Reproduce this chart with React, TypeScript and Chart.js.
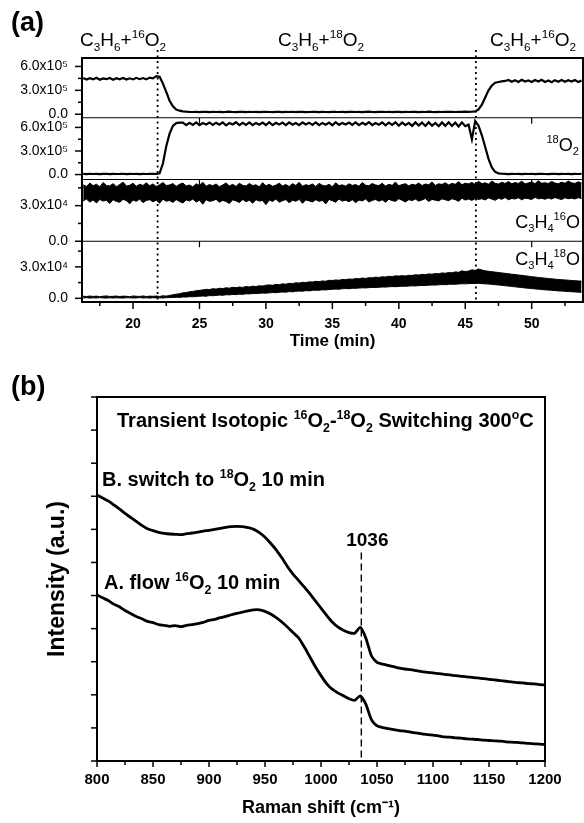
import React, { useEffect, useRef } from 'react';
import { Chart, registerables } from 'chart.js';

Chart.register(...registerables);

const FONT = '"Liberation Sans", Arial, Helvetica, sans-serif';

// ---------------- Panel (a): transient MS signals ----------------
const T0 = 16.25; // min
const DT = 0.25; // min

// 16O2 signal (x1e5)
const O16_SIGNAL = [
  4.55, 4.35, 4.52, 4.38, 4.58, 4.33, 4.5, 4.4, 4.56, 4.34, 4.53, 4.39, 4.55, 4.36, 4.51, 4.37, 4.57, 4.4, 4.54, 4.38, 4.6, 4.5,
  4.78, 4.7, 3.85, 2.8, 1.7, 1.0, 0.6, 0.45, 0.37,
  0.33, 0.3, 0.28, 0.31, 0.27, 0.3, 0.29, 0.26, 0.31, 0.28,
  0.3, 0.27, 0.29, 0.32, 0.28, 0.26, 0.3, 0.29, 0.27, 0.31,
  0.28, 0.3, 0.26, 0.29, 0.31, 0.28, 0.27, 0.3, 0.29, 0.26,
  0.3, 0.28, 0.31, 0.27, 0.29, 0.3, 0.26, 0.28, 0.31, 0.29,
  0.27, 0.3, 0.28, 0.26, 0.31, 0.29, 0.28, 0.3, 0.27, 0.29,
  0.31, 0.28, 0.3, 0.26, 0.29, 0.32, 0.28, 0.27, 0.3, 0.29,
  0.28, 0.31, 0.27, 0.3, 0.29, 0.26, 0.31, 0.28, 0.3, 0.29,
  0.27, 0.3, 0.28, 0.32, 0.29, 0.27, 0.3, 0.28, 0.31, 0.29,
  0.3, 0.28, 0.31, 0.29, 0.33, 0.3, 0.32,
  0.36, 0.6, 1.2, 2.1, 3.0, 3.6, 3.95, 4.05, 4.12, 4.18,
  4.3, 4.08, 4.27, 4.05, 4.32, 4.1, 4.25, 4.04, 4.29, 4.11, 4.33, 4.06, 4.24, 4.03, 4.28, 4.09, 4.31, 4.07, 4.26, 4.1, 4.3, 4.05, 4.22,
];

// 18O2 signal (x1e5)
const O18_SIGNAL = [
  0.08, 0.06, 0.1, 0.07, 0.09, 0.05, 0.08, 0.1, 0.06, 0.09, 0.07, 0.08, 0.1, 0.06, 0.09, 0.07, 0.08, 0.05, 0.09, 0.07, 0.1, 0.08, 0.09,
  0.15, 1.4, 3.6, 5.2, 6.2, 6.55, 6.6,
  6.62, 6.3, 6.58, 6.33, 6.65, 6.28, 6.55, 6.36, 6.63, 6.31,
  6.6, 6.34, 6.64, 6.27, 6.56, 6.37, 6.66, 6.3, 6.59, 6.33,
  6.63, 6.29, 6.57, 6.35, 6.62, 6.31, 6.66, 6.28, 6.58, 6.36,
  6.61, 6.3, 6.65, 6.34, 6.55, 6.28, 6.63, 6.37, 6.6, 6.32,
  6.64, 6.3, 6.57, 6.35, 6.62, 6.27, 6.66, 6.33, 6.56, 6.38,
  6.61, 6.31, 6.64, 6.29, 6.58, 6.36, 6.67, 6.3, 6.55, 6.34,
  6.63, 6.26, 6.6, 6.32, 6.65, 6.22, 6.62, 6.28, 6.58, 6.2,
  6.64, 6.25, 6.61, 6.18, 6.66, 6.22, 6.57, 6.15, 6.63, 6.2,
  6.65, 6.18, 6.6, 6.12, 6.64, 6.16,
  6.35, 4.5, 6.8, 6.2, 5.0, 3.5, 2.0, 0.9, 0.35, 0.15,
  0.1, 0.08, 0.06, 0.09, 0.07, 0.08, 0.05, 0.09, 0.07, 0.1, 0.06, 0.08, 0.09, 0.07, 0.05, 0.08, 0.1, 0.06, 0.09, 0.07, 0.08, 0.06, 0.09, 0.07, 0.08,
];

// C3H4 16O signal (x1e4): upper and lower edge of the noise band
const C3H4_16O_HIGH = [
  4.75, 4.62, 4.9, 4.68, 4.8, 4.58, 4.95, 4.7, 4.66, 4.85,
  4.6, 4.78, 4.98, 4.65, 4.72, 4.88, 4.63, 4.8, 4.7, 4.92,
  4.67, 4.83, 4.61, 4.76, 4.95, 4.69, 4.74, 4.86, 4.62, 4.79,
  4.9, 4.66, 4.73, 4.58, 4.84, 4.7, 4.97, 4.64, 4.77, 4.68,
  4.82, 4.6, 4.74, 4.91, 4.66, 4.79, 4.62, 4.88, 4.71, 4.65,
  4.86, 4.69, 4.75, 4.58, 4.93, 4.67, 4.8, 4.63, 4.72, 4.89,
  4.66, 4.78, 4.61, 4.85, 4.7, 4.96, 4.64, 4.76, 4.69, 4.83,
  4.62, 4.87, 4.71, 4.66, 4.8, 4.59, 4.92, 4.68, 4.75, 4.64,
  4.84, 4.7, 4.78, 4.63, 4.95, 4.72, 4.67, 4.86, 4.74, 4.69,
  4.88, 4.65, 4.79, 4.71, 4.98, 4.68, 4.77, 4.85, 4.66, 4.8,
  4.73, 4.9, 4.69, 4.82, 4.75, 4.99, 4.7, 4.84, 4.78, 4.92,
  4.74, 4.87, 4.8, 5.02, 4.76, 4.89, 4.83, 4.95, 4.79, 5.05,
  4.85, 4.92, 4.8, 5.08, 4.88, 4.82, 4.97, 4.86, 5.03, 4.84,
  4.94, 4.87, 5.06, 4.83, 4.91, 4.99, 4.85, 5.1, 4.89, 4.93,
  4.86, 5.04, 4.9, 4.84, 4.98, 4.88, 5.07, 4.92, 4.87, 5.01,
  4.9,
];
const C3H4_16O_LOW = [
  3.4, 3.55, 3.3, 3.48, 3.22, 3.52, 3.38, 3.45, 3.18, 3.5,
  3.35, 3.28, 3.53, 3.42, 3.15, 3.47, 3.36, 3.55, 3.25, 3.44,
  3.5, 3.32, 3.46, 3.2, 3.54, 3.37, 3.43, 3.27, 3.51, 3.34,
  3.22, 3.48, 3.39, 3.56, 3.3, 3.45, 3.12, 3.5, 3.36, 3.41,
  3.53, 3.29, 3.44, 3.35, 3.18, 3.49, 3.4, 3.26, 3.52, 3.33,
  3.46, 3.21, 3.5, 3.38, 3.43, 3.08, 3.47, 3.35, 3.55, 3.28,
  3.42, 3.51, 3.24, 3.45, 3.37, 3.53, 3.19, 3.48, 3.4, 3.31,
  3.5, 3.36, 3.44, 3.14, 3.52, 3.41, 3.29, 3.55, 3.38, 3.46,
  3.33, 3.5, 3.25, 3.47, 3.4, 3.56, 3.3, 3.44, 3.52, 3.37,
  3.49, 3.28, 3.54, 3.42, 3.36, 3.58, 3.45, 3.31, 3.5, 3.43,
  3.55, 3.38, 3.48, 3.6, 3.35, 3.52, 3.46, 3.4, 3.57, 3.49,
  3.42, 3.58, 3.5, 3.36, 3.62, 3.47, 3.55, 3.44, 3.6, 3.52,
  3.58, 3.48, 3.65, 3.55, 3.45, 3.62, 3.53, 3.68, 3.5, 3.6,
  3.56, 3.66, 3.49, 3.63, 3.58, 3.52, 3.7, 3.57, 3.61, 3.54,
  3.64, 3.55, 3.68, 3.59, 3.51, 3.66, 3.58, 3.63, 3.56, 3.67,
  3.6,
];

// C3H4 18O signal (x1e4): upper and lower edge of the noise band
const C3H4_18O_HIGH = [
  0.2, 0.17, 0.22, 0.18, 0.21, 0.16, 0.2, 0.23, 0.18, 0.19, 0.22, 0.17, 0.21, 0.19, 0.16, 0.22, 0.2, 0.18, 0.23, 0.17, 0.21, 0.19, 0.22, 0.18, 0.24, 0.21,
  0.28, 0.33, 0.4, 0.44, 0.52, 0.55, 0.62, 0.66, 0.72, 0.76,
  0.8, 0.86, 0.83, 0.92, 0.88, 0.96, 0.93, 1.0, 0.97, 1.05, 1.01, 1.08, 1.04, 1.12, 1.09, 1.16, 1.12, 1.2, 1.17, 1.25,
  1.28, 1.24, 1.33, 1.3, 1.38, 1.35, 1.43, 1.4, 1.48, 1.45, 1.53, 1.5, 1.57, 1.55, 1.62, 1.59, 1.66, 1.63, 1.72, 1.7,
  1.75, 1.72, 1.8, 1.78, 1.84, 1.82, 1.88, 1.86, 1.93, 1.9, 1.97, 1.95, 2.02, 1.99, 2.05, 2.03, 2.1, 2.07, 2.14, 2.12,
  2.16, 2.13, 2.2, 2.18, 2.25, 2.22, 2.28, 2.26, 2.33, 2.3, 2.37, 2.34, 2.42, 2.39, 2.46, 2.43, 2.52, 2.48, 2.62, 2.55,
  2.6, 2.72, 2.66, 2.8, 2.7, 2.62, 2.58, 2.54, 2.5, 2.46,
  2.42, 2.38, 2.35, 2.3, 2.27, 2.22, 2.19, 2.14, 2.11, 2.06, 2.03, 1.99, 1.96, 1.92, 1.89, 1.86, 1.83, 1.8, 1.78, 1.75, 1.73, 1.7, 1.68, 1.66, 1.64,
];
const C3H4_18O_LOW = [
  0.04, 0.06, 0.02, 0.05, 0.03, 0.07, 0.04, 0.02, 0.06, 0.03, 0.05, 0.04, 0.02, 0.06, 0.05, 0.03, 0.04, 0.07, 0.03, 0.05, 0.02, 0.06, 0.04, 0.05, 0.03, 0.06,
  0.07, 0.08, 0.1, 0.09, 0.13, 0.12, 0.16, 0.15, 0.18, 0.2,
  0.22, 0.2, 0.26, 0.25, 0.28, 0.31, 0.29, 0.34, 0.33, 0.37, 0.36, 0.4, 0.38, 0.43, 0.42, 0.46, 0.45, 0.48, 0.5, 0.49,
  0.52, 0.55, 0.54, 0.58, 0.6, 0.59, 0.64, 0.62, 0.67, 0.69, 0.68, 0.73, 0.71, 0.76, 0.78, 0.77, 0.81, 0.8, 0.84, 0.86,
  0.88, 0.87, 0.91, 0.93, 0.92, 0.96, 0.95, 0.98, 1.0, 0.99, 1.02, 1.04, 1.03, 1.06, 1.08, 1.07, 1.1, 1.12, 1.11, 1.13,
  1.15, 1.14, 1.17, 1.19, 1.18, 1.21, 1.23, 1.22, 1.25, 1.27, 1.26, 1.29, 1.31, 1.3, 1.33, 1.35, 1.34, 1.37, 1.39, 1.38,
  1.4, 1.42, 1.41, 1.43, 1.4, 1.38, 1.36, 1.33, 1.3, 1.27,
  1.24, 1.2, 1.17, 1.13, 1.1, 1.06, 1.03, 0.99, 0.96, 0.93, 0.9, 0.87, 0.84, 0.81, 0.79, 0.76, 0.74, 0.71, 0.69, 0.67, 0.65, 0.63, 0.61, 0.59, 0.58,
];

const TIME = Array.from({ length: O16_SIGNAL.length }, (_, i) => T0 + DT * i);
const SWITCH_TIMES = [21.85, 45.8];
const TIME_MAJOR_TICKS = [20, 25, 30, 35, 40, 45, 50];
const TIME_MINOR_TICKS = [17.5, 22.5, 27.5, 32.5, 37.5, 42.5, 47.5, 52.5];
const INNER_TICKS = [25, 50];
const O2_MAJOR = [0, 3, 6];
const O2_MINOR = [1.5, 4.5];
const C3H4_MAJOR = [0, 3];
const C3H4_MINOR = [1.5, 4.5];

// ---------------- Panel (b): Raman spectra ----------------
const RAMAN_START = 800;
const RAMAN_STEP = 5;
// A. flow 16O2 10 min (arbitrary units, tick spacing = 1)
const SPECTRUM_A = [
  5.02, 4.93, 4.85, 4.74, 4.66, 4.55, 4.46, 4.37, 4.3, 4.22,
  4.18, 4.12, 4.1, 4.07, 4.09, 4.06, 4.1, 4.12, 4.15, 4.19,
  4.25, 4.28, 4.33, 4.37, 4.42, 4.46, 4.5, 4.54, 4.57, 4.57,
  4.52, 4.44, 4.33, 4.2, 4.05, 3.88, 3.72, 3.45, 3.15, 2.85,
  2.58, 2.34, 2.17, 2.06, 1.97, 1.88, 1.83, 1.97, 1.72, 1.25,
  1.06, 1.01, 0.98, 0.95, 0.92, 0.9, 0.87, 0.85, 0.82, 0.8,
  0.78, 0.76, 0.73, 0.72, 0.7, 0.69, 0.67, 0.66, 0.65, 0.63,
  0.62, 0.61, 0.6, 0.58, 0.57, 0.56, 0.55, 0.53, 0.52, 0.51,
  0.5,
];
// B. switch to 18O2 10 min
const SPECTRUM_B = [
  8.04, 7.95, 7.86, 7.74, 7.62, 7.48, 7.36, 7.24, 7.12, 7.02,
  6.96, 6.91, 6.88, 6.86, 6.85, 6.84, 6.87, 6.89, 6.92, 6.95,
  6.97, 7.0, 7.03, 7.06, 7.08, 7.09, 7.08, 7.05, 7.0, 6.9,
  6.76, 6.58, 6.38, 6.14, 5.88, 5.65, 5.46, 5.26, 5.06, 4.84,
  4.62, 4.4, 4.2, 4.05, 3.95, 3.88, 3.86, 4.04, 3.72, 3.18,
  2.98, 2.93, 2.89, 2.85, 2.81, 2.78, 2.76, 2.73, 2.7, 2.68,
  2.66, 2.64, 2.62, 2.6, 2.58, 2.56, 2.54, 2.53, 2.51, 2.49,
  2.47, 2.45, 2.43, 2.41, 2.39, 2.37, 2.36, 2.34, 2.33, 2.31,
  2.3,
];
const RAMAN_SHIFT = Array.from({ length: SPECTRUM_A.length }, (_, i) => RAMAN_START + RAMAN_STEP * i);
const RAMAN_MAJOR_TICKS = [800, 850, 900, 950, 1000, 1050, 1100, 1150, 1200];
const RAMAN_MINOR_TICKS = [825, 875, 925, 975, 1025, 1075, 1125, 1175];
const INTENSITY_TICKS = [0, 1, 2, 3, 4, 5, 6, 7, 8, 9, 10, 11];
const PEAK_POSITION = 1036;
const PEAK_LINE_TOP = 6.3;

// ---------------- helpers ----------------
type Seg = [string, 'n' | 'b' | 'p'];

function drawRich(
  ctx: CanvasRenderingContext2D,
  segs: Seg[],
  x: number,
  y: number,
  size: number,
  bold: boolean,
  align: 'left' | 'center' | 'right' = 'left'
) {
  const w = bold ? 'bold ' : '';
  const small = size * 0.62;
  const fontFor = (m: string) => `${w}${m === 'n' ? size : small}px ${FONT}`;
  const widths = segs.map(([t, m]) => {
    ctx.font = fontFor(m);
    return ctx.measureText(t).width;
  });
  const total = widths.reduce((a, b) => a + b, 0);
  let cx = align === 'left' ? x : align === 'center' ? x - total / 2 : x - total;
  ctx.textAlign = 'left';
  ctx.textBaseline = 'alphabetic';
  ctx.fillStyle = '#000';
  segs.forEach(([t, m], i) => {
    ctx.font = fontFor(m);
    const dy = m === 'b' ? size * 0.24 : m === 'p' ? -size * 0.42 : 0;
    ctx.fillText(t, cx, y + dy);
    cx += widths[i];
  });
}

function line(ctx: CanvasRenderingContext2D, x1: number, y1: number, x2: number, y2: number) {
  ctx.beginPath();
  ctx.moveTo(x1, y1);
  ctx.lineTo(x2, y2);
  ctx.stroke();
}

const panelAPlugin = {
  id: 'panelADecor',
  afterDraw(chart: any) {
    const { ctx, chartArea: a, scales } = chart;
    const xs = scales.x;
    ctx.save();
    ctx.strokeStyle = '#000';
    ctx.lineWidth = 1.2;
    for (const id of ['y1', 'y2', 'y3']) {
      const yb = scales[id].bottom;
      line(ctx, a.left, yb, a.right, yb);
    }
    for (const id of ['y2', 'y3', 'y4']) {
      for (const v of INNER_TICKS) {
        const px = xs.getPixelForValue(v);
        line(ctx, px, scales[id].top, px, scales[id].top + 6);
      }
    }
    ctx.lineWidth = 2;
    ctx.strokeRect(a.left, a.top, a.right - a.left, a.bottom - a.top);

    ctx.lineWidth = 1.5;
    for (const v of TIME_MAJOR_TICKS) {
      const px = xs.getPixelForValue(v);
      line(ctx, px, a.bottom, px, a.bottom + 7);
    }
    for (const v of TIME_MINOR_TICKS) {
      const px = xs.getPixelForValue(v);
      line(ctx, px, a.bottom, px, a.bottom + 4);
    }
    const ySets: [string, number[], number[]][] = [
      ['y1', O2_MAJOR, O2_MINOR],
      ['y2', O2_MAJOR, O2_MINOR],
      ['y3', C3H4_MAJOR, C3H4_MINOR],
      ['y4', C3H4_MAJOR, C3H4_MINOR],
    ];
    for (const [id, maj, min] of ySets) {
      const s = scales[id];
      for (const v of maj) {
        const py = s.getPixelForValue(v);
        line(ctx, a.left - 7, py, a.left, py);
      }
      for (const v of min) {
        const py = s.getPixelForValue(v);
        if (py >= s.top && py <= s.bottom) line(ctx, a.left - 4, py, a.left, py);
      }
    }

    ctx.setLineDash([2, 3.5]);
    ctx.lineWidth = 1.8;
    for (const t of SWITCH_TIMES) {
      const px = xs.getPixelForValue(t);
      line(ctx, px, 50, px, a.bottom - 2);
    }
    ctx.setLineDash([]);

    ctx.font = `bold 27px ${FONT}`;
    ctx.fillStyle = '#000';
    ctx.textAlign = 'left';
    ctx.textBaseline = 'alphabetic';
    ctx.fillText('(a)', 11, 31);

    const feed = (iso: string): Seg[] => [
      ['C', 'n'], ['3', 'b'], ['H', 'n'], ['6', 'b'], ['+', 'n'], [iso, 'p'], ['O', 'n'], ['2', 'b'],
    ];
    drawRich(ctx, feed('16'), 80, 46, 19, false);
    drawRich(ctx, feed('18'), 278, 46, 19, false);
    drawRich(ctx, feed('16'), 490, 46, 19, false);
    drawRich(ctx, [['18', 'p'], ['O', 'n'], ['2', 'b']], 579, 151, 18, false, 'right');
    drawRich(ctx, [['C', 'n'], ['3', 'b'], ['H', 'n'], ['4', 'b'], ['16', 'p'], ['O', 'n']], 580, 228, 18, false, 'right');
    drawRich(ctx, [['C', 'n'], ['3', 'b'], ['H', 'n'], ['4', 'b'], ['18', 'p'], ['O', 'n']], 580, 265, 18, false, 'right');
    ctx.restore();
  },
};

const panelBPlugin = {
  id: 'panelBDecor',
  afterDraw(chart: any) {
    const { ctx, chartArea: a, scales } = chart;
    const xs = scales.x;
    const ys = scales.y;
    ctx.save();
    ctx.strokeStyle = '#000';
    ctx.lineWidth = 2;
    ctx.strokeRect(a.left, a.top, a.right - a.left, a.bottom - a.top);
    ctx.lineWidth = 1.5;
    for (const v of INTENSITY_TICKS) {
      const py = ys.getPixelForValue(v);
      line(ctx, a.left - 6, py, a.left, py);
    }
    for (const v of RAMAN_MAJOR_TICKS) {
      const px = xs.getPixelForValue(v);
      line(ctx, px, a.bottom, px, a.bottom + 6);
    }
    for (const v of RAMAN_MINOR_TICKS) {
      const px = xs.getPixelForValue(v);
      line(ctx, px, a.bottom, px, a.bottom + 4);
    }
    const pk = xs.getPixelForValue(PEAK_POSITION);
    ctx.setLineDash([7, 4]);
    ctx.lineWidth = 1.4;
    line(ctx, pk, ys.getPixelForValue(PEAK_LINE_TOP), pk, a.bottom);
    ctx.setLineDash([]);

    ctx.font = `bold 27px ${FONT}`;
    ctx.fillStyle = '#000';
    ctx.textAlign = 'left';
    ctx.textBaseline = 'alphabetic';
    ctx.fillText('(b)', 11, 35);

    drawRich(
      ctx,
      [
        ['Transient Isotopic ', 'n'], ['16', 'p'], ['O', 'n'], ['2', 'b'], ['-', 'n'], ['18', 'p'], ['O', 'n'], ['2', 'b'],
        [' Switching 300', 'n'], ['o', 'p'], ['C', 'n'],
      ],
      117, 67, 20, true
    );
    drawRich(ctx, [['B. switch to ', 'n'], ['18', 'p'], ['O', 'n'], ['2', 'b'], [' 10 min', 'n']], 102, 126, 20, true);
    drawRich(ctx, [['A. flow ', 'n'], ['16', 'p'], ['O', 'n'], ['2', 'b'], [' 10 min', 'n']], 104, 229, 20, true);
    drawRich(ctx, [[String(PEAK_POSITION), 'n']], pk + 6, 186, 19, true, 'center');
    ctx.restore();
  },
};

const supDigit: Record<string, string> = { '4': '\u2074', '5': '\u2075' };

function yAxis(min: number, max: number, weight: number, order: number, exp: string) {
  return {
    type: 'linear' as const,
    position: 'left' as const,
    stack: 'ms',
    stackWeight: weight,
    weight: order,
    min,
    max,
    grid: { display: false },
    border: { display: false },
    ticks: {
      stepSize: 3,
      includeBounds: false,
      autoSkip: false,
      padding: 6,
      color: '#000',
      font: { family: FONT, size: 14 },
      callback: (v: any) => (Number(v) === 0 ? '0.0' : `${Number(v).toFixed(1)}x10${supDigit[exp]}`),
    },
    afterFit: (s: any) => {
      s.width = 82;
    },
  };
}

function PanelA() {
  const ref = useRef<HTMLCanvasElement>(null);
  useEffect(() => {
    if (!ref.current) return;
    const mk = (vals: number[]) => TIME.map((t, i) => ({ x: t, y: vals[i] }));
    const ds = (vals: number[], yAxisID: string, w: number, fill: any = false) => ({
      data: mk(vals),
      yAxisID,
      xAxisID: 'x',
      borderColor: '#000',
      backgroundColor: '#000',
      borderWidth: w,
      pointRadius: 0,
      tension: 0,
      fill,
    });
    const chart = new Chart(ref.current, {
      type: 'line',
      data: {
        datasets: [
          ds(O16_SIGNAL, 'y1', 2.2),
          ds(O18_SIGNAL, 'y2', 2.2),
          ds(C3H4_16O_HIGH, 'y3', 1, '+1'),
          ds(C3H4_16O_LOW, 'y3', 1),
          ds(C3H4_18O_HIGH, 'y4', 1, '+1'),
          ds(C3H4_18O_LOW, 'y4', 1),
        ],
      },
      options: {
        responsive: false,
        animation: false,
        events: [],
        layout: { padding: { top: 58, right: 1, left: 0, bottom: 0 } },
        plugins: { legend: { display: false }, tooltip: { enabled: false } },
        scales: {
          x: {
            type: 'linear',
            position: 'bottom',
            min: 16.16,
            max: 53.86,
            grid: { display: false },
            border: { display: false },
            ticks: {
              stepSize: 5,
              includeBounds: false,
              autoSkip: false,
              maxRotation: 0,
              padding: 6,
              color: '#000',
              font: { family: FONT, size: 14, weight: 'bold' },
              callback: (v: any) => String(v),
            },
            title: {
              display: true,
              text: 'Time (min)',
              color: '#000',
              font: { family: FONT, size: 17, weight: 'bold' },
              padding: { top: 0, bottom: 8 },
            },
            afterFit: (s: any) => {
              s.height = 58;
            },
          },
          y4: yAxis(-0.35, 5.44, 61, 1, '4'),
          y3: yAxis(0, 5.2, 62, 2, '4'),
          y2: yAxis(-0.63, 7.23, 62, 3, '5'),
          y1: yAxis(-0.44, 7.06, 60, 4, '5'),
        } as any,
      },
      plugins: [panelAPlugin],
    });
    return () => chart.destroy();
  }, []);
  return <canvas ref={ref} width={584} height={360} style={{ display: 'block' }} />;
}

function PanelB() {
  const ref = useRef<HTMLCanvasElement>(null);
  useEffect(() => {
    if (!ref.current) return;
    const mk = (vals: number[]) => RAMAN_SHIFT.map((x, i) => ({ x, y: vals[i] }));
    const ds = (vals: number[]) => ({
      data: mk(vals),
      borderColor: '#000',
      borderWidth: 2.8,
      pointRadius: 0,
      tension: 0.2,
      fill: false,
    });
    const chart = new Chart(ref.current, {
      type: 'line',
      data: { datasets: [ds(SPECTRUM_B), ds(SPECTRUM_A)] },
      options: {
        responsive: false,
        animation: false,
        events: [],
        layout: { padding: { top: 37, right: 39, left: 0, bottom: 0 } },
        plugins: { legend: { display: false }, tooltip: { enabled: false } },
        scales: {
          x: {
            type: 'linear',
            min: 800,
            max: 1200,
            grid: { display: false },
            border: { display: false },
            ticks: {
              stepSize: 50,
              autoSkip: false,
              maxRotation: 0,
              padding: 2,
              color: '#000',
              font: { family: FONT, size: 15, weight: 'bold' },
              callback: (v: any) => String(v),
            },
            title: {
              display: true,
              text: 'Raman shift (cm\u207B\u00B9)',
              color: '#000',
              font: { family: FONT, size: 18, weight: 'bold' },
              padding: { top: 0, bottom: 4 },
            },
            afterFit: (s: any) => {
              s.height = 62;
            },
          },
          y: {
            type: 'linear',
            min: 0,
            max: 11,
            grid: { display: false },
            border: { display: false },
            ticks: { display: false },
            title: {
              display: true,
              text: 'Intensity (a.u.)',
              color: '#000',
              font: { family: FONT, size: 23, weight: 'bold' },
              padding: { top: 44, bottom: 0 },
            },
            afterFit: (s: any) => {
              s.width = 97;
            },
          },
        } as any,
      },
      plugins: [panelBPlugin],
    });
    return () => chart.destroy();
  }, []);
  return <canvas ref={ref} width={584} height={463} style={{ display: 'block' }} />;
}

export default function App() {
  return (
    <div style={{ position: 'absolute', left: 0, top: 0, width: 584, height: 823, background: '#fff' }}>
      <PanelA />
      <PanelB />
    </div>
  );
}
